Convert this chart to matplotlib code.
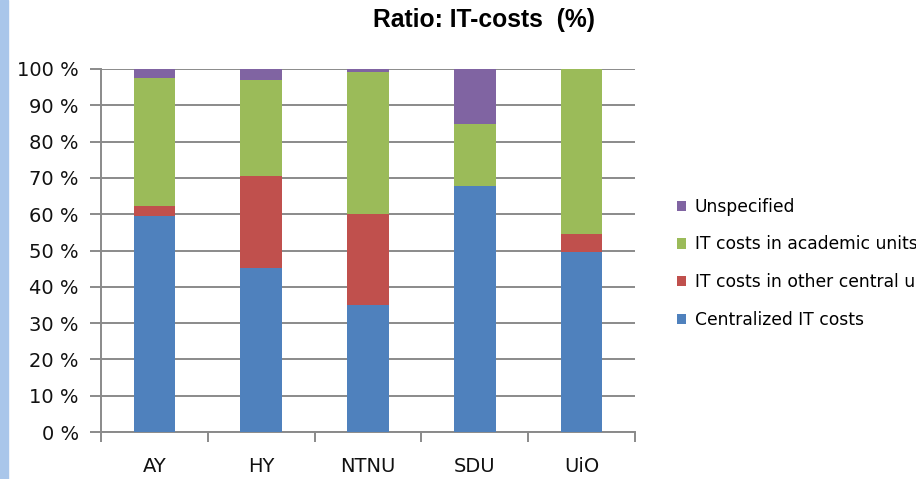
import matplotlib
matplotlib.use("Agg")
import matplotlib.pyplot as plt
from matplotlib.patches import Rectangle
import numpy as np

categories = ["AY", "HY", "NTNU", "SDU", "UiO"]
centralized = [59.4, 45.1, 35.1, 67.7, 49.5]
other_central = [2.8, 25.3, 24.9, 0.0, 5.0]
academic = [35.3, 26.5, 39.1, 17.1, 45.5]
unspecified = [2.5, 3.1, 0.9, 15.2, 0.0]

series = [
    ("Centralized IT costs", centralized, "#4F81BD"),
    ("IT costs in other central units", other_central, "#C0504D"),
    ("IT costs in academic units", academic, "#9BBB59"),
    ("Unspecified", unspecified, "#8064A2"),
]

fig = plt.figure(figsize=(9.16, 4.79), dpi=100)
ax = fig.add_axes([101/916, 1-432/479, 534/916, (432-69)/479])

x = np.arange(len(categories))
bottom = np.zeros(len(categories))
handles = []
for label, vals, col in series:
    b = ax.bar(x, vals, width=0.39, bottom=bottom, color=col, label=label, zorder=3)
    handles.append(b)
    bottom += np.array(vals)

ax.set_xlim(-0.5, len(categories) - 0.5)
ax.set_ylim(0, 100)
ax.set_yticks(np.arange(0, 101, 10))
ax.set_yticklabels([f"{v} %" for v in range(0, 101, 10)])
ax.yaxis.grid(True, color="#8a8a8a", linewidth=1.4, zorder=0)
ax.set_axisbelow(True)

for s in ["top", "right"]:
    ax.spines[s].set_visible(False)
for s in ["left", "bottom"]:
    ax.spines[s].set_color("#8a8a8a")
    ax.spines[s].set_linewidth(1.4)

ax.set_xticks(x)
ax.set_xticklabels(categories)
ax.set_xticks(np.arange(-0.5, len(categories), 1.0), minor=True)
ax.tick_params(axis="x", which="major", length=0, pad=18, labelsize=14, labelcolor="#111111")
ax.tick_params(axis="x", which="minor", length=7, width=1.4, color="#8a8a8a", direction="out")
ax.tick_params(axis="y", which="major", length=8, width=1.4, color="#8a8a8a", pad=8,
               labelsize=14, labelcolor="#111111")

fig.suptitle("Ratio: IT-costs  (%)", x=484/916, y=1-20/479, va="center",
             fontsize=17.7, fontweight="bold", family="Liberation Sans")

leg = fig.legend(handles[::-1], [s[0] for s in series][::-1],
                 loc="upper left", bbox_to_anchor=(670/916, 1-191/479),
                 frameon=False, fontsize=12.3, handlelength=0.55, handleheight=0.55,
                 handletextpad=0.5, labelspacing=1.15, borderaxespad=0)

fig.patches.append(Rectangle((0, 0), 8/916, 1, transform=fig.transFigure,
                             color="#A9C6EA", zorder=0))

fig.savefig("out.png", dpi=100)
